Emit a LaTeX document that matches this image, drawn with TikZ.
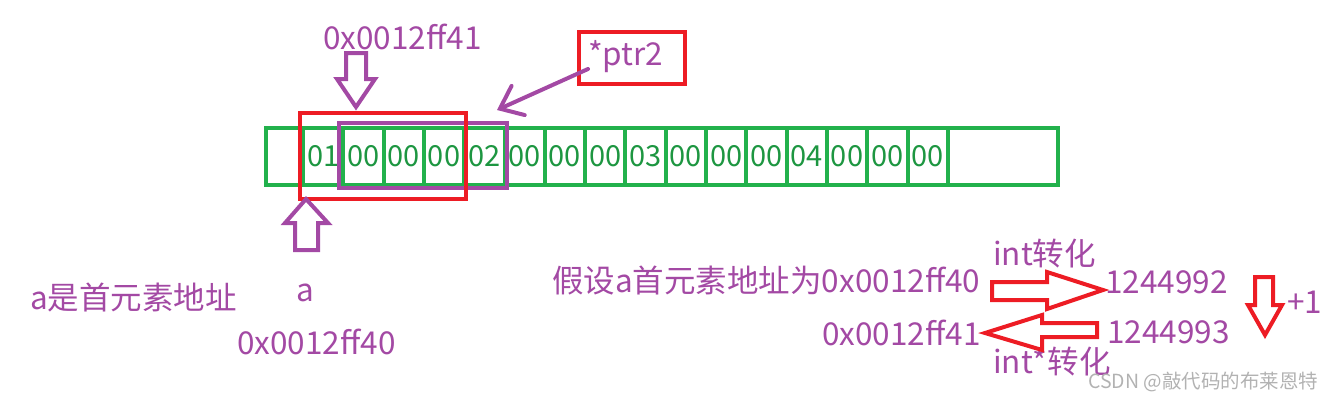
\documentclass[tikz,border=0pt]{standalone}
\usepackage{fontspec}
\setmainfont{Noto Sans CJK SC}
\usetikzlibrary{arrows.meta, positioning}
\definecolor{cellgreen}{RGB}{34,177,76}
\definecolor{markred}{RGB}{237,28,36}
\definecolor{markpurple}{RGB}{163,73,164}
\tikzset{
cell/.style={draw=cellgreen, line width=4pt, minimum width=40.3pt, minimum height=57pt, inner sep=0pt, text=cellgreen!85!black, font=\fontsize{29}{32}\selectfont}, % one byte of the array
note/.style={text=markpurple, inner sep=0pt, anchor=west, font=\fontsize{31.5}{36}\selectfont}, % purple hand written text
hollow/.style={line width=4pt, line join=miter}, % outline of a fat arrow
}

\begin{document}
\begin{tikzpicture}[x=1pt,y=-1pt]
        \useasboundingbox (0,0) rectangle (1334,400);
        % memory row
        \node[cell, minimum width=37pt] (c0) at (284.5,156.5) {};
        \foreach \v [count=\i] in {01,00,00,00,02,00,00,00,03,00,00,00,04,00,00,00}
            \node[cell] (c\i) at ({303+(\i-0.5)*40.3},156.5) {\v};
        \node[cell, minimum width=110pt] (c17) at (1003,156.5) {};
        % int* and ptr2 boxes
        \node[draw=markpurple, line width=4pt, minimum width=168pt, minimum height=65pt] (ptrbox) at (423,155.5) {};
        \draw[markred, line width=4pt] (300,113) rectangle (466,199);
        \node[draw=markred, line width=4pt, minimum width=106pt, minimum height=52pt] (ptr2) at (632,58) {};
        \node[note] (ptr2txt) at (588,57) {*ptr2};
        \coordinate (ptrtail) at (588,69);
        \coordinate (ptrtip) at (497,110);
        \draw[markpurple, line width=4pt, line cap=round, -{Straight Barb[length=20pt,width=32pt,line cap=round]}] (ptrtail) -- (ptrtip);
        % fat arrows at the row
        \draw[markpurple, hollow] (346,53) -- (366,53) -- (366,79) -- (375,79) -- (356,107) -- (337,79) -- (346,79) -- cycle;
        \draw[markpurple, hollow] (295,250) -- (295,223) -- (285,223) -- (306,199) -- (328,223) -- (318,223) -- (318,250) -- cycle;
        % left texts
        \node[note] (addr41) at (323,37) {0x0012ff41};
        \node[note] (first) at (30,297) {a是首元素地址};
        \node[note, anchor=center] (aname) at (305,293) {a};
        \node[note] (addr40) at (237,342) {0x0012ff40};
        % conversion on the right
        \node[note] (assume) at (552,281) {假设a首元素地址为0x0012ff40};
        \node[note] (toint) at (993,254) {int转化};
        \node[note] (num92) at (1105,282) {1244992};
        \node[note] (back41) at (822,333) {0x0012ff41};
        \node[note] (num93) at (1107,332) {1244993};
        \node[note] (toptr) at (993,362) {int*转化};
        \node[note] (plus) at (1287,302) {+1};
        \draw[markred, hollow] (992,282) -- (1047,282) -- (1047,272) -- (1103,290) -- (1047,309) -- (1047,300) -- (992,300) -- cycle;
        \draw[markred, hollow] (1097,323) -- (1042,323) -- (1042,315) -- (985,333) -- (1042,350) -- (1042,337) -- (1097,337) -- cycle;
        \draw[markred, hollow] (1255,277) -- (1273,277) -- (1273,305) -- (1282,305) -- (1265,335) -- (1248,305) -- (1255,305) -- cycle;
        % watermark
        \node[note, text=gray!60, font=\fontsize{19.5}{23}\selectfont] (mark) at (1088,382) {CSDN @敲代码的布莱恩特};
    \end{tikzpicture}
\end{document}
